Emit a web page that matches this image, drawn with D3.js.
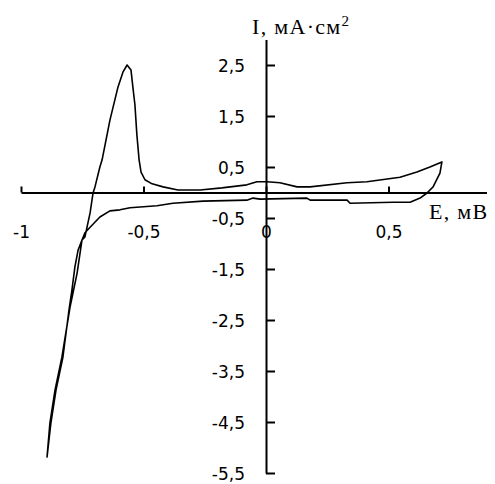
<!DOCTYPE html>
<html>
<head>
<meta charset="utf-8">
<script src="https://cdn.jsdelivr.net/npm/d3@7"></script>
<style>
  body { margin: 0; background: #fff; }
  .tick text { font-family: "DejaVu Sans", sans-serif; font-size: 17px; fill: #000; }
  .title { font-family: "Liberation Serif", "Times New Roman", serif; font-size: 22px; letter-spacing: 1.3px; fill: #000; }
</style>
</head>
<body>
<div id="chart"></div>
<script>
// potential E (V) and current I (mA/cm2), forward scan then reverse scan
var forwardE = [-0.894, -0.882, -0.861, -0.833, -0.800, -0.771, -0.751, -0.739, -0.718, -0.706, -0.698, -0.678, -0.669, -0.637, -0.604, -0.584, -0.567, -0.551, -0.543, -0.535, -0.527, -0.518, -0.510, -0.494, -0.465, -0.420, -0.359, -0.269, -0.180, -0.078, -0.037, 0.004, 0.057, 0.127, 0.180, 0.331, 0.412, 0.547, 0.616, 0.669, 0.718];
var forwardI = [-5.20, -4.52, -3.87, -3.23, -2.25, -1.58, -0.93, -0.87, -0.40, -0.01, 0.11, 0.50, 0.64, 1.42, 2.07, 2.36, 2.50, 2.40, 2.05, 1.72, 1.13, 0.64, 0.40, 0.25, 0.17, 0.11, 0.05, 0.05, 0.09, 0.15, 0.21, 0.21, 0.19, 0.11, 0.11, 0.19, 0.21, 0.30, 0.40, 0.50, 0.60];
var reverseE = [0.718, 0.710, 0.682, 0.657, 0.629, 0.588, 0.518, 0.343, 0.331, 0.180, 0.167, -0.024, -0.053, -0.078, -0.257, -0.380, -0.445, -0.555, -0.596, -0.637, -0.678, -0.718, -0.739, -0.751, -0.767, -0.780, -0.792, -0.804, -0.829, -0.857, -0.878, -0.894];
var reverseI = [0.60, 0.38, 0.11, -0.01, -0.11, -0.19, -0.19, -0.21, -0.15, -0.15, -0.11, -0.13, -0.11, -0.15, -0.17, -0.21, -0.26, -0.30, -0.34, -0.36, -0.48, -0.68, -0.79, -0.93, -1.13, -1.46, -1.91, -2.30, -3.23, -3.87, -4.52, -5.20];
var xTicks = [-1, -0.5, 0, 0.5];
var yTicks = [2.5, 1.5, 0.5, -0.5, -1.5, -2.5, -3.5, -4.5, -5.5];

var width = 495, height = 484;

var svg = d3.select('#chart').append('svg')
    .attr('width', width)
    .attr('height', height);

var x = d3.scaleLinear()
    .domain([-1, 0.9])
    .range([21, 486.5]);

var y = d3.scaleLinear()
    .domain([3, -5.5])
    .range([39.5, 473]);

var fmt = d => String(d).replace('.', ',');

// x axis through I = 0
var xAxis = svg.append('g')
    .attr('class', 'axis-x')
    .attr('transform', 'translate(0,' + y(0) + ')')
    .call(d3.axisBottom(x).tickValues(xTicks).tickFormat(fmt)
        .tickSizeInner(-6).tickSizeOuter(0).tickPadding(33));

// y axis through E = 0
var yAxis = svg.append('g')
    .attr('class', 'axis-y')
    .attr('transform', 'translate(' + x(0) + ',0)')
    .call(d3.axisLeft(y).tickValues(yTicks).tickFormat(fmt)
        .tickSizeInner(-9).tickSizeOuter(0).tickPadding(21));

svg.selectAll('.domain').attr('stroke', '#000').attr('stroke-width', 2);
svg.selectAll('.tick line').attr('stroke', '#000').attr('stroke-width', 2);
yAxis.selectAll('.tick text').attr('dy', '0.4em');

var pts = forwardE.map((e, i) => [e, forwardI[i]])
    .concat(reverseE.map((e, i) => [e, reverseI[i]]));

var line = d3.line()
    .x(d => x(d[0]))
    .y(d => y(d[1]));

svg.append('path')
    .datum(pts)
    .attr('fill', 'none')
    .attr('stroke', '#000')
    .attr('stroke-width', 1.6)
    .attr('stroke-linejoin', 'round')
    .attr('d', line);

// axis titles
var yt = svg.append('text')
    .attr('class', 'title')
    .attr('x', 252)
    .attr('y', 34);
yt.append('tspan').text('I, мА·см');
yt.append('tspan').attr('dy', -8).style('font-size', '15px').text('2');

svg.append('text')
    .attr('class', 'title')
    .attr('x', 429)
    .attr('y', 219)
    .text('E, мВ');
</script>
</body>
</html>
